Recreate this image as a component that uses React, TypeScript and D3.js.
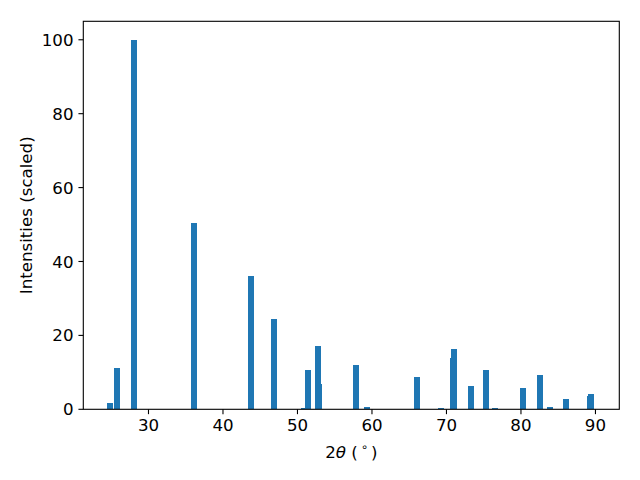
import React from 'react';
import * as d3 from 'd3';

// peak positions (2θ) and scaled intensities
const peakPositions = [
  24.83, 25.77, 28.05, 36.1, 43.76, 46.85, 50.87, 51.41, 52.75, 52.88,
  57.92, 59.33, 66.04, 69.26, 70.87, 71.0, 73.29, 75.3, 76.5, 80.27,
  82.55, 83.89, 86.04, 89.26, 89.4,
];
const peakIntensities = [
  1.7, 11.2, 100, 50.4, 36.1, 24.45, 0.3, 10.6, 17.1, 6.9,
  12.0, 0.6, 8.75, 0.3, 13.9, 16.3, 6.3, 10.6, 0.3, 5.8,
  9.3, 0.6, 2.8, 3.6, 4.1,
];
const xTicks = [30, 40, 50, 60, 70, 80, 90];
const yTicks = [0, 20, 40, 60, 80, 100];
const xDomain = [21.25, 93.2];
const yDomain = [0, 105];

const W = 640;
const H = 480;
const left = 83.3;
const right = 619.3;
const top = 21.3;
const bottom = 409.3;
const barWidth = 0.8;
const fontFamily = '"DejaVu Sans", sans-serif';

const App: React.FC = () => {
  const x = d3.scaleLinear().domain(xDomain).range([left, right]);
  const y = d3.scaleLinear().domain(yDomain).range([bottom, top]);
  const bw = x(barWidth) - x(0);

  return (
    <svg
      width={W}
      height={H}
      viewBox={`0 0 ${W} ${H}`}
      style={{ position: 'absolute', left: 0, top: 0, background: 'white' }}
      fontFamily={fontFamily}
    >
      <rect width={W} height={H} fill="white" />

      {/* bars */}
      <g fill="#1f77b4">
        {peakPositions.map((p, i) => (
          <rect
            key={i}
            x={x(p) - bw / 2}
            y={y(peakIntensities[i])}
            width={bw}
            height={y(0) - y(peakIntensities[i])}
            shapeRendering="crispEdges"
          />
        ))}
      </g>

      {/* spines */}
      <rect
        x={left}
        y={top}
        width={right - left}
        height={bottom - top}
        fill="none"
        stroke="black"
        strokeWidth={1.1}
        strokeLinejoin="miter"
      />

      {/* x axis */}
      <g>
        {xTicks.map((t) => (
          <g key={t} transform={`translate(${x(t)},0)`}>
            <line y1={bottom} y2={bottom + 4.86} stroke="black" strokeWidth={1.1} />
            <text y={431.3} textAnchor="middle" fontSize={16.67} fill="black">
              {t}
            </text>
          </g>
        ))}
        <text x={(left + right) / 2} y={458.3} textAnchor="middle" fontSize={16.67} fill="black">
          2<tspan fontStyle="italic">θ</tspan> (
          <tspan dx={3} dy={-7} fontSize={11.5}>∘</tspan>
          <tspan dx={3} dy={7}>)</tspan>
        </text>
      </g>

      {/* y axis */}
      <g>
        {yTicks.map((t) => (
          <g key={t} transform={`translate(0,${y(t)})`}>
            <line x1={left} x2={left - 4.86} stroke="black" strokeWidth={1.1} />
            <text x={73.5} dy="0.36em" textAnchor="end" fontSize={16.67} fill="black">
              {t}
            </text>
          </g>
        ))}
        <text
          transform={`translate(31.5,${(top + bottom) / 2}) rotate(-90)`}
          textAnchor="middle"
          fontSize={16.67}
          fill="black"
        >
          Intensities (scaled)
        </text>
      </g>
    </svg>
  );
};

export default App;
